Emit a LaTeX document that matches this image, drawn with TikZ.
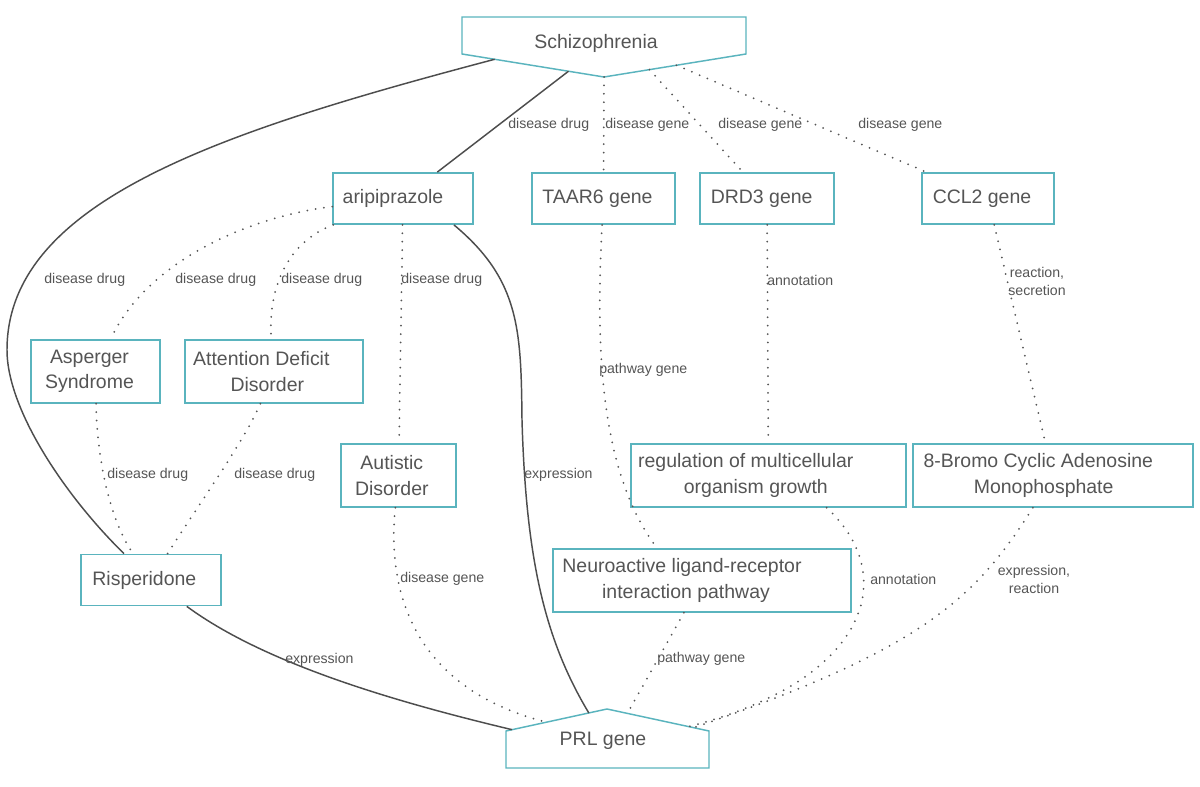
\documentclass[tikz,border=0pt]{standalone}
\usepackage{fontspec}
\setmainfont{Liberation Sans}
\usepackage{tikz}
\usetikzlibrary{calc}
\definecolor{boxline}{HTML}{5AB4BE}
\definecolor{inkgray}{HTML}{555555}
\definecolor{edgegray}{HTML}{4D4D4D}
\definecolor{dotgray}{HTML}{555555}
\newcommand{\rpad}[1]{\hspace*{#1pt}}% pushes the text a bit to the left
\tikzstyle{outline} = [
    draw=boxline,
    fill=white,
    line width=1.1pt
    ]
\tikzstyle{entity} = [
    outline,
    text=inkgray,
    font=\fontsize{14.6}{19}\selectfont,
    inner sep=0pt,
    align=center
    ]
\tikzstyle{oneline} = [entity, minimum height=38.5pt]
\tikzstyle{twoline} = [entity, minimum height=47.25pt]
\tikzstyle{lbl} = [
    text=inkgray,
    font=\fontsize{10.6}{13.5}\selectfont,
    inner sep=0pt,
    align=center
    ]
\tikzstyle{hard} = [draw=edgegray, line width=1.1pt]
\tikzstyle{soft} = [draw=dotgray, line width=1.5pt, line cap=round, dash pattern=on 0pt off 6.3pt]

\begin{document}
\begin{tikzpicture}[x=0.75pt,y=-0.75pt]
\path[use as bounding box, fill=white] (0,0) rectangle (1200,787);

% Schizophrenia and PRL gene
\coordinate (sztl) at (462,17);
\coordinate (sztr) at (746,17);
\coordinate (szbr) at (746,54);
\coordinate (sztip) at (604,77);
\coordinate (szbl) at (462,54);
\filldraw[outline] (sztl) -- (sztr) -- (szbr) -- (sztip) -- (szbl) -- cycle;
\node[entity, draw=none, fill=none] (schiz) at (596,43) {Schizophrenia};

\coordinate (prlbl) at (506,768);
\coordinate (prlbr) at (709,768);
\coordinate (prltr) at (709,731);
\coordinate (prltip) at (607,709);
\coordinate (prltl) at (506,731);
\filldraw[outline] (prlbl) -- (prlbr) -- (prltr) -- (prltip) -- (prltl) -- cycle;
\node[entity, draw=none, fill=none] (prl) at (603,741) {PRL gene};

% boxes
\node[oneline, minimum width=105pt] (arip) at (403,198.5) {aripiprazole\rpad{15}};
\node[oneline, minimum width=107.25pt] (taar) at (603.5,198.5) {TAAR6 gene\rpad{9}};
\node[oneline, minimum width=100.5pt] (drd) at (767,198.5) {DRD3 gene\rpad{8}};
\node[oneline, minimum width=99pt] (ccl) at (988,198.5) {CCL2 gene\rpad{9}};
\node[twoline, minimum width=96.75pt] (asp) at (95.5,371.5) {Asperger\rpad{9}\\Syndrome\rpad{9}};
\node[twoline, minimum width=133.5pt] (add) at (274,371.5) {Attention Deficit\rpad{19}\\Disorder\rpad{10}};
\node[twoline, minimum width=86.25pt] (aut) at (398.5,475.5) {Autistic\rpad{10}\\Disorder\rpad{10}};
\node[twoline, minimum width=206.25pt] (reg) at (768.5,475.5) {regulation of multicellular\rpad{34}\\organism growth\rpad{19}};
\node[twoline, minimum width=210pt] (brom) at (1053,475.5) {8-Bromo Cyclic Adenosine\rpad{22}\\Monophosphate\rpad{14}};
\node[oneline, minimum width=105pt] (risp) at (151,580) {Risperidone\rpad{10}};
\node[twoline, minimum width=223.5pt] (neuro) at (702,580.5) {Neuroactive ligand-receptor\rpad{30}\\interaction pathway\rpad{24}};

% solid links
\draw[hard] ($(szbl)!0.75!(sztip)$) -- (arip);
\draw[hard] ($(szbl)!0.23!(sztip)$) .. controls (224.5,130.7) and (7,200) .. (7,350)
    .. controls (7,410) and (66,497) .. (risp);
\draw[hard] ($(arip.south west)!0.86!(arip.south east)$) .. controls (520,280) and (521,330) .. (522,420)
    .. controls (526,560) and (545,640) .. ($(prltl)!0.82!(prltip)$);
\draw[hard] (risp) .. controls (265,664) and (396,702) .. ($(prltl)!0.06!(prltip)$);

% dotted links
\draw[soft] (sztip) -- (taar);
\draw[soft] ($(sztip)!0.32!(szbr)$) -- (drd);
\draw[soft] ($(sztip)!0.51!(szbr)$) -- (ccl);
\draw[soft] (arip) .. controls (260,215) and (150,255) .. (asp);
\draw[soft] (arip) .. controls (280,245) and (268,300) .. (add);
\draw[soft] (arip) -- (aut);
\draw[soft] (taar) .. controls (596,340) and (598,470) .. ($(neuro.north west)!0.35!(neuro.north east)$);
\draw[soft] (drd) -- (reg);
\draw[soft] (ccl) -- (brom);
\draw[soft] (asp) .. controls (97,460) and (110,520) .. (risp);
\draw[soft] (add) .. controls (245,440) and (195,510) .. (risp);
\draw[soft] (aut) .. controls (386,600) and (420,690) .. ($(prltl)!0.4!(prltip)$);
\draw[soft] (neuro) -- ($(prltip)!0.2!(prltr)$);
\draw[soft] ($(reg.south west)!0.71!(reg.south east)$) .. controls (900,575) and (870,680) .. ($(prltip)!0.8!(prltr)$);
\draw[soft] (brom) .. controls (975,600) and (920,650) .. ($(prltip)!0.85!(prltr)$);

% link labels
\node[lbl, anchor=west] (l1) at (508,125) {disease drug};
\node[lbl, anchor=west] (l2) at (605,125) {disease gene};
\node[lbl, anchor=west] (l3) at (718,125) {disease gene};
\node[lbl, anchor=west] (l4) at (858,125) {disease gene};
\node[lbl, anchor=west] (l5) at (44,280) {disease drug};
\node[lbl, anchor=west] (l6) at (175,280) {disease drug};
\node[lbl, anchor=west] (l7) at (281,280) {disease drug};
\node[lbl, anchor=west] (l8) at (401,280) {disease drug};
\node[lbl, anchor=west] (l9) at (767,280) {annotation};
\node[lbl] (l10) at (1037,281) {reaction,\\secretion};
\node[lbl, anchor=west] (l11) at (599,370) {pathway gene};
\node[lbl, anchor=west] (l12) at (107,475) {disease drug};
\node[lbl, anchor=west] (l13) at (234,475) {disease drug};
\node[lbl, anchor=west] (l14) at (524,475) {expression};
\node[lbl, anchor=west] (l15) at (400,579) {disease gene};
\node[lbl, anchor=west] (l16) at (870,579) {annotation};
\node[lbl] (l17) at (1034,579) {expression,\\reaction};
\node[lbl, anchor=west] (l18) at (285,660) {expression};
\node[lbl, anchor=west] (l19) at (657,659) {pathway gene};
\end{tikzpicture}
\end{document}
